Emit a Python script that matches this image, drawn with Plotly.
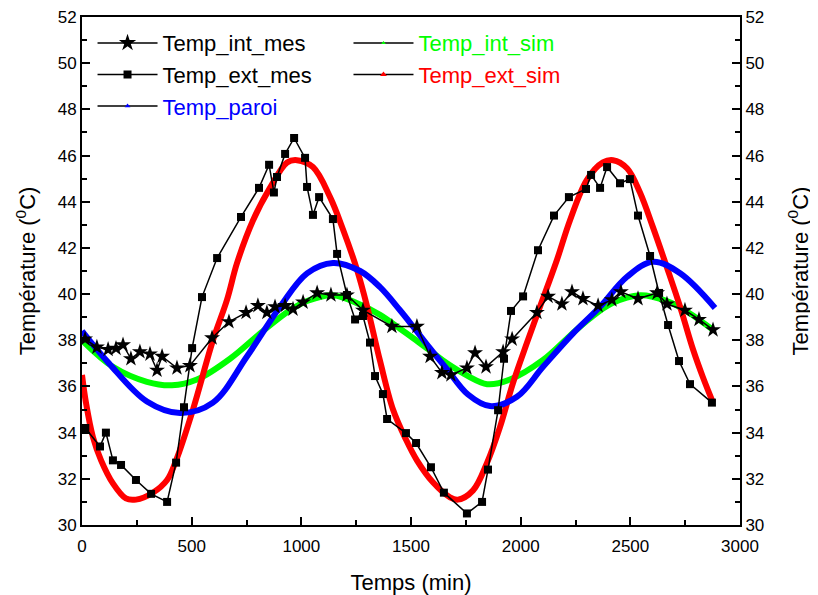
import plotly.graph_objects as go

# ---- data ----
t_int_mes = [14, 68, 119, 155, 187, 223, 264, 310, 342, 365, 433, 492, 593, 670, 748, 802, 843, 880,
             926, 962, 1008, 1072, 1135, 1208, 1281, 1413, 1527, 1587, 1641, 1682, 1755, 1792, 1842,
             1920, 1961, 2074, 2125, 2188, 2234, 2284, 2353, 2416, 2457, 2535, 2622, 2667, 2749, 2813, 2877]
v_int_mes = [38.05, 37.7, 37.6, 37.65, 37.8, 37.2, 37.5, 37.4, 36.7, 37.3, 36.8, 36.9, 38.1, 38.8, 39.2,
             39.5, 39.2, 39.45, 39.5, 39.35, 39.65, 40.05, 39.96, 39.96, 39.3, 38.6, 38.6, 37.3, 36.6,
             36.5, 36.8, 37.45, 36.85, 37.5, 38.05, 39.2, 39.9, 39.57, 40.1, 39.8, 39.5, 39.75, 40.1,
             39.8, 40.05, 39.57, 39.3, 38.9, 38.45]

t_ext_mes = [15, 82, 109, 141, 178, 246, 315, 388, 429, 465, 502, 547, 616, 725, 807, 853, 875, 889,
             926, 967, 1017, 1026, 1053, 1081, 1144, 1163, 1208, 1245, 1281, 1313, 1336, 1372, 1391,
             1477, 1523, 1591, 1650, 1755, 1824, 1851, 1897, 1924, 1956, 2011, 2079, 2152, 2220, 2298,
             2321, 2362, 2394, 2453, 2498, 2535, 2590, 2631, 2672, 2722, 2772, 2872]
v_ext_mes = [34.2, 33.4, 34.0, 32.8, 32.6, 31.95, 31.35, 31.0, 32.7, 35.1, 37.66, 39.87, 41.56, 43.34,
             44.6, 45.6, 44.4, 45.07, 46.07, 46.76, 45.9, 44.64, 43.43, 44.2, 43.25, 41.74, 39.96, 38.9,
             39.05, 37.9, 36.45, 35.67, 34.59, 33.98, 33.55, 32.5, 31.4, 30.5, 31.0, 32.4, 34.97, 37.2,
             39.27, 39.9, 41.9, 43.4, 44.2, 44.55, 45.16, 44.6, 45.5, 44.8, 44.98, 43.4, 41.65, 40.05,
             38.66, 37.1, 36.1, 35.3]

t_int_sim = [0, 141, 296, 410, 524, 675, 825, 948, 1026, 1144, 1268, 1359, 1450, 1509, 1587, 1664,
             1760, 1847, 1951, 2102, 2225, 2316, 2416, 2544, 2667, 2749, 2877]
v_int_sim = [38.0, 36.85, 36.2, 36.05, 36.3, 37.2, 38.4, 39.3, 39.7, 39.95, 39.55, 39.1, 38.5, 38.1,
             37.55, 37.0, 36.45, 36.1, 36.3, 37.15, 38.2, 38.95, 39.6, 39.95, 39.7, 39.3, 38.45]

t_ext_sim = [0, 18, 50, 87, 141, 200, 246, 323, 388, 429, 506, 597, 661, 707, 780, 857, 935, 980,
             1053, 1131, 1190, 1254, 1299, 1359, 1418, 1477, 1527, 1600, 1678, 1714, 1783, 1847, 1906,
             1965, 2029, 2088, 2166, 2225, 2302, 2375, 2421, 2485, 2544, 2603, 2667, 2727, 2786, 2831, 2877]
v_ext_sim = [36.5, 35.3, 33.8, 32.8, 31.8, 31.15, 31.1, 31.4, 31.95, 32.8, 35.0, 38.0, 39.75, 41.35,
             43.2, 44.6, 45.7, 45.8, 45.5, 44.2, 42.8, 41.05, 39.5, 37.1, 35.0, 33.7, 32.8, 31.85, 31.2,
             31.1, 31.5, 32.7, 34.25, 36.15, 37.9, 39.45, 41.5, 43.2, 44.95, 45.7, 45.8, 45.45, 44.4,
             42.9, 41.15, 39.45, 37.6, 36.4, 35.3]

t_paroi = [0, 123, 296, 447, 597, 752, 903, 1026, 1144, 1268, 1359, 1450, 1509, 1587, 1664, 1760,
           1860, 1983, 2102, 2239, 2362, 2485, 2603, 2727, 2886]
v_paroi = [38.4, 37.0, 35.35, 34.85, 35.3, 37.3, 39.45, 40.9, 41.35, 41.0, 40.3, 39.3, 38.6, 37.65,
           36.75, 35.65, 35.15, 35.55, 36.85, 38.3, 39.45, 40.75, 41.4, 40.9, 39.4]

x_ticks = [0, 500, 1000, 1500, 2000, 2500, 3000]
y_ticks = [30, 32, 34, 36, 38, 40, 42, 44, 46, 48, 50, 52]

GREEN = "#00ff00"
RED = "#ff0000"
BLUE = "#0000ff"
FONT = "Liberation Sans, Arial, sans-serif"

fig = go.Figure()

# simulated curves drawn as thick bands
for t, v, c in [(t_int_sim, v_int_sim, GREEN), (t_ext_sim, v_ext_sim, RED), (t_paroi, v_paroi, BLUE)]:
    fig.add_trace(go.Scatter(x=t, y=v, mode="lines",
                             line=dict(color=c, width=6, shape="spline", smoothing=1.0),
                             showlegend=False, hoverinfo="skip"))

# measured
fig.add_trace(go.Scatter(x=t_ext_mes, y=v_ext_mes, mode="lines+markers", name="Temp_ext_mes",
                         line=dict(color="black", width=1.5),
                         marker=dict(symbol="square", size=8, color="black"),
                         showlegend=False))
fig.add_trace(go.Scatter(x=t_int_mes, y=v_int_mes, mode="lines+markers", name="Temp_int_mes",
                         line=dict(color="black", width=1.5),
                         marker=dict(symbol="star", size=12, color="black"),
                         showlegend=False))

# legend entries
def leg(name, sym, size, mcol, legend, group):
    fig.add_trace(go.Scatter(x=[None], y=[None], mode="lines+markers", name=name,
                             line=dict(color="black", width=1.5),
                             marker=dict(symbol=sym, size=size, color=mcol),
                             legend=legend, legendgroup=group))

leg("Temp_int_mes", "star", 13, "black", "legend", "a")
leg("Temp_ext_mes", "square", 8, "black", "legend", "b")
leg('<span style="color:#0000ff">Temp_paroi</span>', "triangle-up", 5, BLUE, "legend", "c")
leg('<span style="color:#00ff00">Temp_int_sim</span>', "triangle-up", 4, GREEN, "legend2", "d")
leg('<span style="color:#ff0000">Temp_ext_sim</span>', "triangle-up", 6, RED, "legend2", "e")

axis_common = dict(showline=True, linecolor="black", linewidth=2, ticks="inside", ticklen=8,
                   tickwidth=1.5, tickcolor="black", showgrid=False, zeroline=False, automargin=False,
                   ticklabeloverflow="allow",
                   tickfont=dict(family=FONT, size=17, color="black"))

ytitle = "Température (<sup>0</sup>C)"
# page body has an 8px margin, so the figure is 8px smaller than the window
fig.update_layout(
    width=810, height=587,
    margin=dict(l=74, r=78, t=9, b=70),
    paper_bgcolor="white", plot_bgcolor="white",
    xaxis=dict(range=[0, 3000], tickvals=x_ticks, mirror=True, ticklabelstandoff=5,
               minor=dict(ticks="inside", ticklen=5, dtick=250, tickcolor="black", tickwidth=1.5),
               title=dict(text="Temps (min)", font=dict(family=FONT, size=22, color="black"), standoff=20),
               **axis_common),
    yaxis=dict(range=[30, 52], tickvals=y_ticks,
               minor=dict(ticks="inside", ticklen=5, dtick=1, tickcolor="black", tickwidth=1.5),
               title=dict(text=ytitle, font=dict(family=FONT, size=22, color="black"), standoff=16),
               **axis_common),
    yaxis2=dict(range=[30, 52], tickvals=y_ticks, overlaying="y", side="right", anchor="x",
                minor=dict(ticks="inside", ticklen=5, dtick=1, tickcolor="black", tickwidth=1.5),
                title=dict(text=ytitle, font=dict(family=FONT, size=22, color="black"), standoff=29),
                **axis_common),
    legend=dict(x=0.016, y=0.99, xanchor="left", yanchor="top", bgcolor="rgba(0,0,0,0)",
                font=dict(family=FONT, size=22, color="black"), tracegroupgap=0,
                traceorder="grouped", itemwidth=60),
    legend2=dict(x=0.405, y=0.99, xanchor="left", yanchor="top", bgcolor="rgba(0,0,0,0)",
                 font=dict(family=FONT, size=22, color="black"), tracegroupgap=0,
                 traceorder="grouped", itemwidth=60),
)
# invisible trace to activate yaxis2
fig.add_trace(go.Scatter(x=[None], y=[None], yaxis="y2", showlegend=False, hoverinfo="skip"))

fig.write_html("out.html")
